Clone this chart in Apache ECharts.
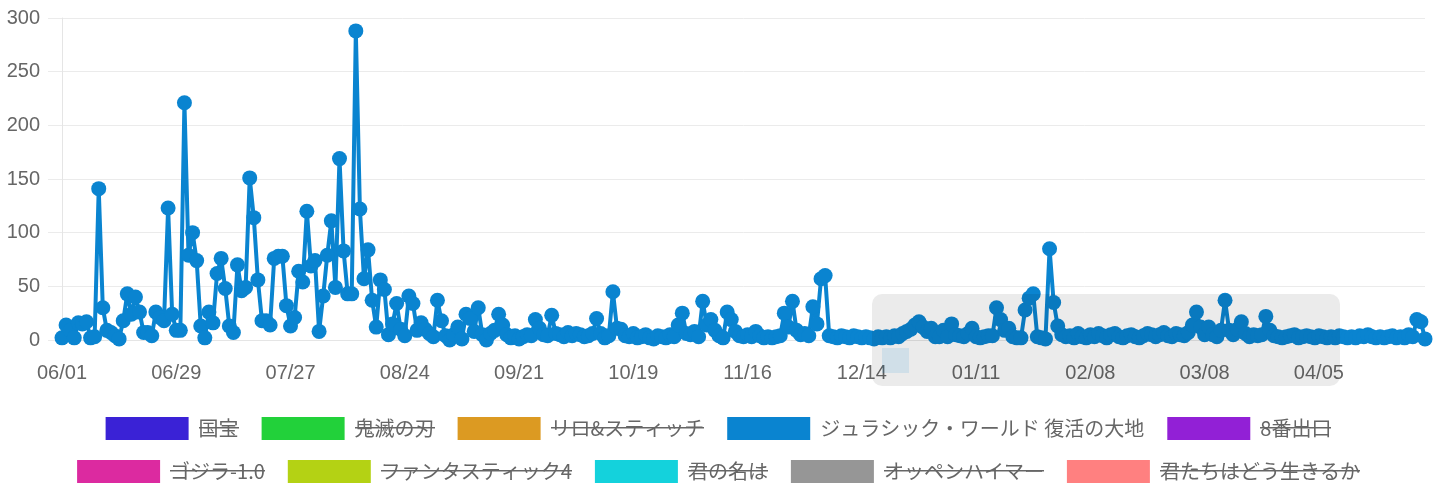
<!DOCTYPE html>
<html>
<head>
<meta charset="utf-8">
<script src="https://cdn.jsdelivr.net/npm/echarts@6/dist/echarts.min.js"></script>
<style>
  html, body { margin: 0; padding: 0; background: #fff; }
  #chart { width: 1437px; height: 500px; }
</style>
</head>
<body>
<div id="chart"></div>
<script>
// daily values, 2024-06-01 .. 2025-05-01
var jurassicValues = [
  2, 14, 9, 2, 16, 15, 17, 2, 3, 141, 30, 9, 7, 4, 1, 18, 43, 24, 40, 26,
  7, 7, 4, 26, 21, 18, 123, 24, 9, 9, 221, 79, 100, 74, 13, 2, 26, 16, 62, 76,
  48, 13, 7, 70, 46, 49, 151, 114, 56, 18, 18, 14, 76, 78, 78, 32, 13, 21, 64, 54,
  120, 69, 74, 8, 41, 79, 111, 49, 169, 83, 43, 43, 288, 122, 57, 84, 37, 12, 56, 47,
  5, 15, 34, 10, 4, 41, 34, 9, 16, 10, 6, 3, 37, 18, 4, 0, 5, 12, 1, 24,
  20, 8, 30, 5, 0, 6, 9, 24, 14, 5, 2, 4, 1, 3, 5, 4, 19, 11, 5, 4,
  23, 6, 5, 3, 7, 4, 6, 5, 3, 4, 6, 20, 6, 2, 4, 45, 11, 10, 4, 3,
  6, 2, 3, 5, 2, 1, 4, 3, 2, 5, 3, 14, 25, 6, 5, 8, 3, 36, 14, 19,
  9, 4, 2, 26, 19, 8, 4, 3, 5, 3, 8, 4, 2, 3, 2, 3, 4, 25, 12, 36,
  9, 5, 6, 4, 31, 15, 57, 60, 4, 3, 2, 4, 3, 2, 4, 3, 2, 3, 2, 1,
  3, 2, 3, 2, 4, 3, 6, 8, 10, 14, 17, 12, 8, 11, 3, 3, 9, 3, 15, 5,
  4, 3, 6, 11, 3, 2, 3, 4, 4, 30, 19, 9, 11, 3, 2, 2, 28, 39, 43, 3,
  2, 1, 85, 35, 13, 5, 3, 4, 2, 6, 3, 2, 5, 3, 6, 4, 2, 5, 6, 3,
  2, 4, 5, 3, 2, 4, 6, 5, 3, 5, 7, 4, 3, 6, 5, 4, 7, 14, 26, 12,
  5, 12, 5, 3, 9, 37, 9, 5, 10, 17, 6, 3, 5, 4, 5, 22, 9, 4, 3, 2,
  3, 4, 5, 2, 3, 4, 3, 2, 4, 3, 2, 3, 2, 4, 3, 2, 3, 2, 4, 3,
  5, 3, 2, 3, 2, 3, 4, 2, 3, 2, 5, 3, 19, 17, 1
];

var movieNames = ['国宝', '鬼滅の刃', 'リロ&スティッチ', 'ジュラシック・ワールド 復活の大地', '8番出口',
  'ゴジラ-1.0', 'ファンタスティック4', '君の名は', 'オッペンハイマー', '君たちはどう生きるか'];
var movieColors = ['#3a22d6', '#22d13a', '#dc9a22', '#0a84d0', '#9220d6',
  '#dc2aa0', '#b4d214', '#14d2dc', '#969696', '#ff8080'];
var shownMovie = 'ジュラシック・ワールド 復活の大地';

var yTicks = { min: 0, max: 300, interval: 50 };

// date categories
var dates = [];
var d = new Date(2024, 5, 1);
for (var i = 0; i < jurassicValues.length; i++) {
  var mm = ('0' + (d.getMonth() + 1)).slice(-2);
  var dd = ('0' + d.getDate()).slice(-2);
  dates.push(mm + '/' + dd);
  d.setDate(d.getDate() + 1);
}

// strike-through used on hidden legend entries
var strike = document.createElement('canvas');
strike.width = 10;
strike.height = 28;
var sctx = strike.getContext('2d');
sctx.fillStyle = '#666';
sctx.fillRect(0, 12, 10, 2);

var latin = '"Liberation Sans", Arial, sans-serif';
var cjk = '"Noto Sans CJK JP", "Liberation Sans", sans-serif';

var series = movieNames.map(function (name, idx) {
  return {
    name: name,
    type: 'line',
    data: name === shownMovie ? jurassicValues : [],
    color: movieColors[idx],
    lineStyle: { width: 4, color: movieColors[idx] },
    itemStyle: { color: movieColors[idx] },
    symbol: 'circle',
    symbolSize: 15,
    showAllSymbol: true,
    z: 3
  };
});

function legendRow(names, top) {
  return {
    data: names.map(function (n) { return { name: n, icon: 'rect' }; }),
    left: 'center',
    top: top,
    itemWidth: 83,
    itemHeight: 23,
    itemGap: 23,
    selectedMode: false,
    formatter: function (name) {
      return '{g| }' + (name === shownMovie ? '{n|' + name + '}' : '{s|' + name + '}');
    },
    textStyle: {
      fontSize: 20,
      fontFamily: cjk,
      color: '#666',
      rich: {
        g: { width: 5 },
        n: { fontSize: 20, fontFamily: cjk, color: '#666', lineHeight: 28 },
        s: { fontSize: 20, fontFamily: cjk, color: '#666', lineHeight: 28,
             backgroundColor: { image: strike } }
      }
    }
  };
}

var chart = echarts.init(document.getElementById('chart'));
chart.setOption({
  animation: false,
  grid: { left: 62, right: 12, top: 18, bottom: 160 },
  xAxis: {
    type: 'category',
    data: dates,
    boundaryGap: false,
    axisLine: { show: true, lineStyle: { color: '#e5e5e5' } },
    axisTick: { show: false },
    axisLabel: { interval: 27, color: '#666', fontSize: 20, fontFamily: latin, margin: 23 },
    splitLine: { show: false }
  },
  yAxis: {
    type: 'value',
    min: yTicks.min,
    max: yTicks.max,
    interval: yTicks.interval,
    axisLine: { show: true, lineStyle: { color: '#e5e5e5' } },
    axisTick: { show: true, length: 14, lineStyle: { color: '#ebebeb' } },
    axisLabel: { color: '#666', fontSize: 20, fontFamily: latin, margin: 22 },
    splitLine: { show: true, lineStyle: { color: '#ebebeb' } }
  },
  legend: [
    legendRow(movieNames.slice(0, 5), 412),
    legendRow(movieNames.slice(5), 455)
  ],
  graphic: [
    {
      type: 'rect', z: 100,
      shape: { x: 872, y: 294, width: 468, height: 92, r: 10 },
      style: { fill: 'rgba(0,0,0,0.08)' }
    },
    {
      type: 'rect', z: 101,
      shape: { x: 882, y: 348, width: 27, height: 25 },
      style: { fill: 'rgba(10,132,208,0.12)' }
    }
  ],
  series: series
});
</script>
</body>
</html>
